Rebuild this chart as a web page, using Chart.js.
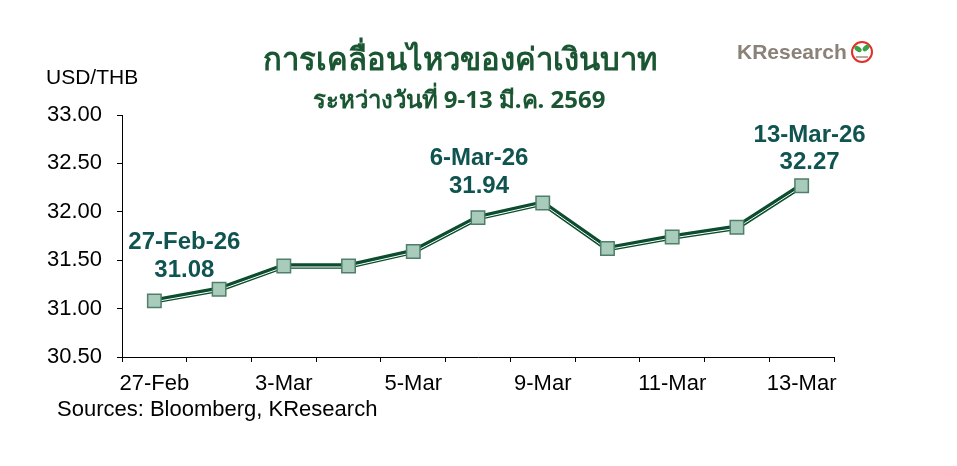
<!DOCTYPE html>
<html>
<head>
<meta charset="utf-8">
<script src="https://cdn.jsdelivr.net/npm/chart.js@4/dist/chart.umd.min.js"></script>
<style>
  body { margin: 0; background: #fff; }
  #wrap { position: relative; width: 957px; height: 466px; }
</style>
</head>
<body>
<div id="wrap"><canvas id="chart" width="957" height="466"></canvas></div>
<script>
// USD/THB daily close
const dates = ['27-Feb', '2-Mar', '3-Mar', '4-Mar', '5-Mar', '6-Mar', '9-Mar', '10-Mar', '11-Mar', '12-Mar', '13-Mar'];
const rates = [31.08, 31.20, 31.44, 31.44, 31.59, 31.94, 32.09, 31.62, 31.74, 31.84, 32.27];
const yTicks = [30.50, 31.00, 31.50, 32.00, 32.50, 33.00];
const calloutIdx = [0, 5, 10];
const calloutText = ['27-Feb-26', '6-Mar-26', '13-Mar-26'];

const lineColor = '#0b4d2e';
const arial = '"Liberation Sans", Arial, sans-serif';

// thin white line inside the thick dark line
const innerLine = {
    id: 'innerLine',
    afterDatasetDraw(chart, args) {
        if (args.index !== 1) return;
        const ctx = chart.ctx;
        const pts = args.meta.data;
        ctx.save();
        ctx.strokeStyle = '#ffffff';
        ctx.lineWidth = 1;
        ctx.lineJoin = 'round';
        ctx.beginPath();
        pts.forEach((p, i) => {
            if (i === 0) ctx.moveTo(p.x, p.y + 1);
            else ctx.lineTo(p.x, p.y + 1);
        });
        ctx.stroke();
        ctx.restore();
    }
};

// titles, callouts, logo, source
const extras = {
    id: 'extras',
    afterDraw(chart) {
        const ctx = chart.ctx;
        const x = chart.scales.x, y = chart.scales.y;
        ctx.save();

        ctx.fillStyle = '#1b5633';
        ctx.textAlign = 'center';
        ctx.textBaseline = 'middle';
        ctx.font = 'bold 31px "Noto Sans", sans-serif';
        ctx.fillText('การเคลื่อนไหวของค่าเงินบาท', 460, 61);
        ctx.font = 'bold 24px "Noto Sans", sans-serif';
        ctx.fillText('ระหว่างวันที่ 9-13 มี.ค. 2569', 459, 101);

        ctx.fillStyle = '#000';
        ctx.textAlign = 'left';
        ctx.font = '21px ' + arial;
        ctx.fillText('USD/THB', 46, 78);
        ctx.font = '22px ' + arial;
        ctx.fillText('Sources: Bloomberg, KResearch', 57, 410);

        // callouts
        ctx.fillStyle = '#0f5450';
        ctx.textAlign = 'center';
        ctx.font = 'bold 24px ' + arial;
        const offs = [[30, -58, -30], [1, -59, -31], [8, -50, -23]];
        calloutIdx.forEach((idx, k) => {
            const px = x.getPixelForValue(idx);
            const py = y.getPixelForValue(rates[idx]);
            const o = offs[k];
            ctx.fillText(calloutText[k], px + o[0], py + o[1]);
            ctx.fillText(rates[idx].toFixed(2), px + o[0], py + o[2]);
        });

        // logo
        ctx.textAlign = 'left';
        ctx.fillStyle = '#8a8178';
        ctx.font = 'bold 21px ' + arial;
        ctx.fillText('KResearch', 737, 53);
        ctx.beginPath();
        ctx.arc(862, 52, 10, 0, Math.PI * 2);
        ctx.fillStyle = '#fff';
        ctx.fill();
        ctx.strokeStyle = '#e0302a';
        ctx.lineWidth = 2;
        ctx.stroke();
        ctx.fillStyle = '#3aa14a';
        ctx.beginPath();
        ctx.ellipse(858, 49, 4, 2.5, 0.6, 0, Math.PI * 2);
        ctx.fill();
        ctx.beginPath();
        ctx.ellipse(866, 48, 4, 2.5, -0.8, 0, Math.PI * 2);
        ctx.fill();
        ctx.fillStyle = '#b5aaa0';
        ctx.fillRect(856, 56, 12, 2);
        ctx.restore();
    }
};

new Chart(document.getElementById('chart'), {
    type: 'line',
    data: {
        labels: dates,
        datasets: [{
            data: rates,
            showLine: false,
            pointStyle: 'rect',
            pointRadius: 9.5,
            pointHoverRadius: 9.5,
            pointBackgroundColor: '#a9cbbb',
            pointBorderColor: '#4f7f68',
            pointBorderWidth: 1.5,
            order: 0
        }, {
            data: rates,
            borderColor: lineColor,
            borderWidth: 5.5,
            pointRadius: 0,
            tension: 0,
            order: 1
        }]
    },
    options: {
        responsive: false,
        animation: false,
        events: [],
        layout: { padding: { left: 0, right: 123, top: 115, bottom: 69 } },
        plugins: { legend: { display: false }, tooltip: { enabled: false } },
        scales: {
            x: {
                offset: true,
                afterFit: s => { s.height = 40; },
                grid: { drawOnChartArea: false, drawTicks: true, tickLength: 5, color: '#000', offset: true },
                border: { color: '#000', width: 1 },
                ticks: {
                    autoSkip: false,
                    maxRotation: 0,
                    padding: 9,
                    color: '#000',
                    font: { family: arial, size: 22 },
                    callback: (v, i) => i % 2 === 0 ? dates[i] : ''
                }
            },
            y: {
                min: 30.5,
                max: 33,
                afterFit: s => { s.width = 122; },
                afterBuildTicks: s => { s.ticks = yTicks.map(v => ({ value: v })); },
                grid: { drawOnChartArea: false, drawTicks: true, tickLength: 5, color: '#000' },
                border: { color: '#000', width: 1 },
                ticks: {
                    padding: 15,
                    color: '#000',
                    font: { family: arial, size: 22 },
                    callback: v => v.toFixed(2)
                }
            }
        }
    },
    plugins: [innerLine, extras]
});
</script>
</body>
</html>
